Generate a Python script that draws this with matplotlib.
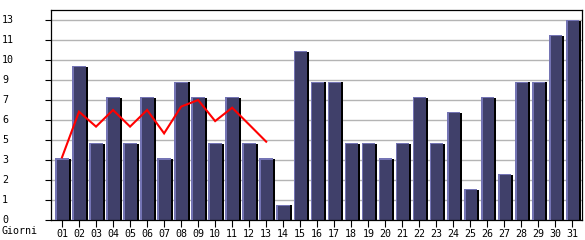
import matplotlib
matplotlib.use("Agg")
import matplotlib.pyplot as plt
import matplotlib.transforms as mtransforms
import numpy as np

days = ["01","02","03","04","05","06","07","08","09","10","11","12","13","14","15","16",
        "17","18","19","20","21","22","23","24","25","26","27","28","29","30","31"]
values = [4,10,5,8,5,8,4,9,8,5,8,5,4,1,11,9,9,5,5,4,5,8,5,7,2,8,3,9,9,12,13]
trend = [4.07,7.04,6.07,7.15,6.07,7.15,5.63,7.37,7.8,6.43,7.3,6.2,5.09]
ytick_vals = [0,1.3,2.6,3.9,5.2,6.5,7.8,9.1,10.4,11.7,13.0]
ytick_labels = ["0","1","2","3","5","6","7","9","10","11","13"]
xlabel = "Giorni"

W, H = 585, 240
fig = plt.figure(figsize=(W/100, H/100), dpi=100)
ax = fig.add_axes([50.5/W, 20/H, (582-50.5)/W, 210/H])

x = np.arange(1, len(values)+1)
fill = "#40406a"
edge = "#7474b4"
bw = 0.79
ax.bar(x, values, width=bw, color=fill, edgecolor="none", zorder=2)
# left highlight
ax.bar(x - bw/2 + 0.055, values, width=0.11, color=edge, edgecolor="none", zorder=3)
# top highlight
ax.bar(x, [0.07]*len(values), bottom=np.array(values)-0.07, width=bw, color=edge, edgecolor="none", zorder=3)
# right shadow
ax.bar(x + bw/2 + 0.06, np.array(values)-0.05, width=0.12, color="black", edgecolor="none", zorder=3)

ax.plot(x[:len(trend)], trend, color="#ff0000", lw=1.5, zorder=4, solid_joinstyle="miter")

ax.set_xlim(0.324, 31.56)
ax.set_ylim(0, 13.65)
ax.set_yticks(ytick_vals)
ax.set_yticklabels([])
ax.set_xticks(x)
ax.set_xticklabels(days, fontsize=7.2, family="DejaVu Sans Mono")
ax.tick_params(axis="x", length=5, width=0.8, pad=1.5, color="black")
ax.tick_params(axis="y", length=4, width=0.8, color="black")
ax.grid(axis="y", color="#b4b4b4", lw=1.0, zorder=0)
ax.set_axisbelow(True)
for s in ax.spines.values():
    s.set_color("black")
    s.set_linewidth(0.9)

tr = mtransforms.blended_transform_factory(fig.transFigure, ax.transData)
for v, lab in zip(ytick_vals, ytick_labels):
    ax.text(2/W, v, lab, transform=tr, ha="left", va="center", fontsize=7.2,
            family="DejaVu Sans Mono", clip_on=False)
fig.text(2/W, 1-231/H, xlabel, ha="left", va="center", fontsize=7.2, family="DejaVu Sans Mono")

fig.savefig("out.png", dpi=100, facecolor="white")
